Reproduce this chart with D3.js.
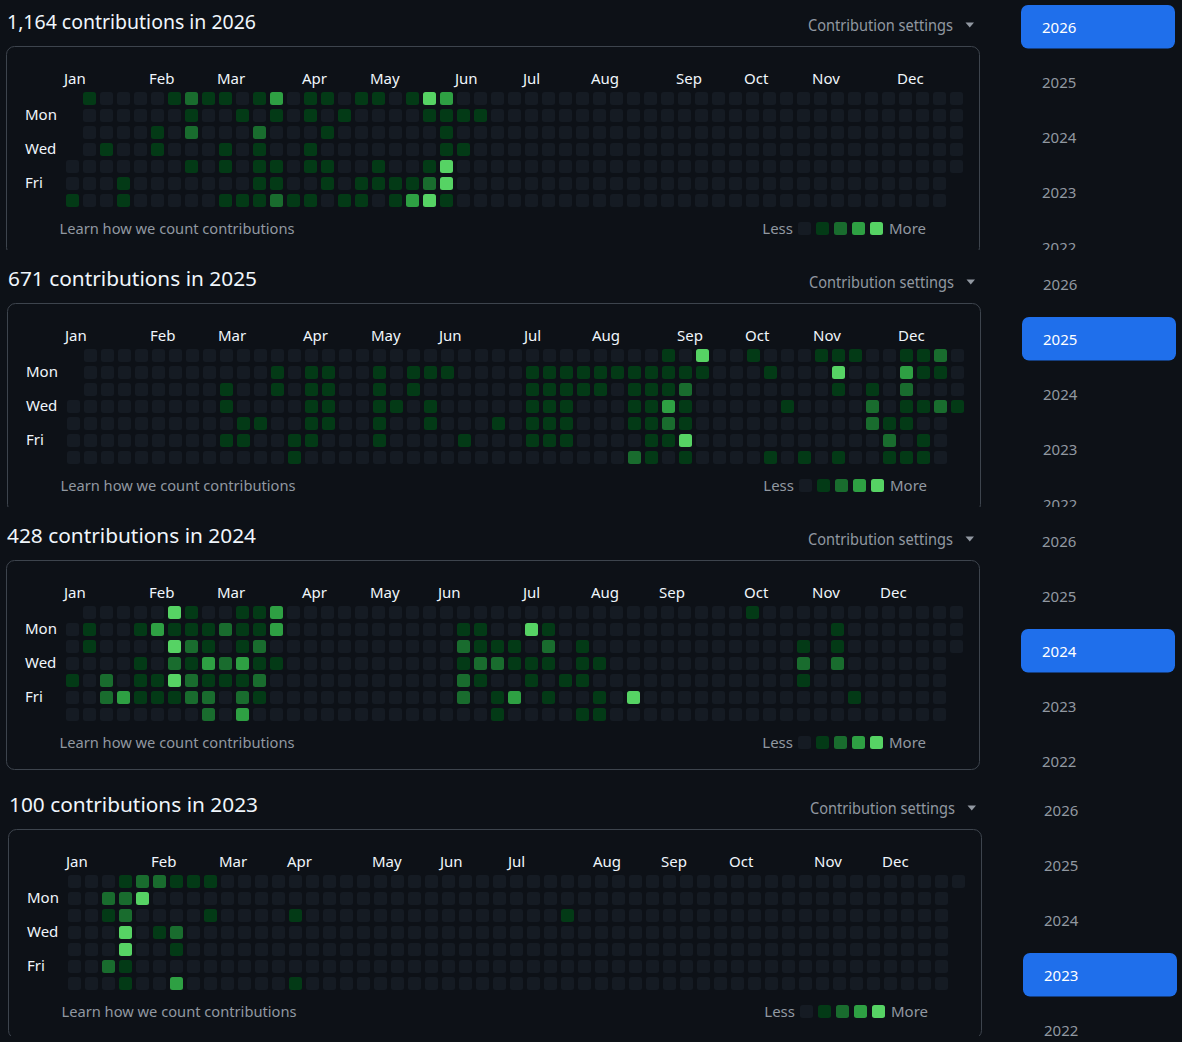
<!DOCTYPE html>
<html><head><meta charset="utf-8">
<script src="https://cdn.jsdelivr.net/npm/d3@7"></script>
<style>
html,body{margin:0;padding:0;background:#0d1117;}
svg{display:block;font-family:"Segoe UI","Noto Sans",sans-serif;}
</style></head><body>
<svg id="chart" width="1182" height="1042"></svg>
<script>
// ---------------- data ----------------
const years = [2026, 2025, 2024, 2023];
const totals = [1164, 671, 428, 100];
const sidebarYears = [2026, 2025, 2024, 2023, 2022];
const monthNames = ["Jan","Feb","Mar","Apr","May","Jun","Jul","Aug","Sep","Oct","Nov","Dec"];
const dayLabels = [[1,"Mon"],[3,"Wed"],[5,"Fri"]];
const levels = [0,1,2,3,4];
const levelColors = ["#151b23","#033a16","#196c2e","#2ea043","#56d364"];

// per weekday (Sun..Sat): [week column, level]
const activity2026 = [
  [[1,1],[6,1],[7,2],[8,1],[9,1],[11,1],[12,3],[14,1],[15,1],[17,1],[18,1],[20,1],[21,4],[22,3]],
  [[7,1],[10,1],[12,1],[14,1],[16,1],[21,1],[22,1],[23,1],[24,1]],
  [[5,1],[7,2],[11,2],[15,1],[22,1]],
  [[2,1],[5,1],[9,1],[11,1],[14,1],[22,1],[23,1]],
  [[7,1],[9,1],[11,1],[12,1],[14,1],[15,1],[18,1],[21,1],[22,4]],
  [[3,1],[11,1],[12,1],[15,1],[17,1],[18,1],[19,1],[20,1],[21,2],[22,4]],
  [[0,1],[3,1],[9,1],[10,1],[11,1],[12,2],[13,1],[14,1],[16,1],[17,1],[19,1],[20,3],[21,4],[22,1]]
];
const activity2025 = [
  [[35,1],[37,4],[40,1],[44,1],[45,1],[46,1],[49,1],[50,1],[51,2]],
  [[12,1],[14,1],[15,1],[18,1],[20,1],[21,1],[22,1],[27,1],[28,1],[29,1],[30,1],[31,1],[32,1],[33,1],[34,1],[35,1],[36,1],[37,1],[41,1],[45,4],[49,3],[50,1],[51,1]],
  [[9,1],[12,1],[14,1],[15,1],[18,1],[20,1],[27,1],[28,1],[29,1],[30,1],[31,1],[33,1],[34,1],[35,1],[36,2],[45,1],[47,1],[49,2]],
  [[9,1],[14,1],[15,1],[18,1],[19,1],[21,1],[27,1],[28,1],[29,1],[33,1],[34,1],[35,3],[36,1],[42,1],[47,2],[49,1],[50,1],[51,2],[52,1]],
  [[10,1],[11,1],[14,1],[15,1],[18,1],[21,1],[25,1],[27,1],[28,1],[29,1],[33,1],[34,1],[35,2],[36,1],[47,2],[48,1],[49,1]],
  [[9,1],[10,1],[13,1],[14,1],[18,1],[23,1],[27,1],[28,1],[29,1],[34,1],[35,1],[36,4],[48,2],[50,1]],
  [[13,1],[33,2],[34,1],[36,1],[41,1],[43,1],[45,1],[48,1],[49,1],[50,1]]
];
const activity2024 = [
  [[6,4],[7,1],[10,1],[11,1],[12,3],[40,1]],
  [[1,1],[4,1],[5,3],[6,1],[7,1],[8,1],[9,2],[10,1],[11,1],[12,3],[23,1],[24,1],[27,4],[28,1],[45,1]],
  [[1,1],[6,4],[7,2],[8,1],[10,1],[11,2],[23,2],[24,1],[25,1],[26,1],[28,2],[30,1],[43,1],[45,1]],
  [[4,1],[6,2],[7,1],[8,3],[9,2],[10,3],[11,1],[12,1],[23,1],[24,2],[25,2],[26,1],[27,1],[28,1],[30,1],[31,1],[43,2],[45,2]],
  [[0,1],[2,2],[4,1],[5,1],[6,4],[7,2],[8,1],[9,1],[10,1],[11,2],[23,2],[24,1],[27,1],[29,1],[30,1],[43,1]],
  [[2,2],[3,3],[4,1],[5,1],[6,1],[7,2],[8,2],[10,2],[11,1],[23,2],[25,1],[26,3],[28,1],[31,1],[33,4],[46,1]],
  [[8,2],[10,3],[25,1],[30,1],[31,1]]
];
const activity2023 = [
  [[3,1],[4,2],[5,2],[6,1],[7,1],[8,1]],
  [[2,2],[3,2],[4,4]],
  [[2,1],[3,2],[8,1],[13,1],[29,1]],
  [[3,4],[5,1],[6,2]],
  [[3,4],[6,1]],
  [[2,2],[3,1]],
  [[3,1],[6,3],[13,1]]
];
const activities = [activity2026, activity2025, activity2024, activity2023];

// ---------------- layout ----------------
const panels = [
  {dx:0, dy:0,   band:[0,250]},
  {dx:1, dy:257, band:[250,507]},
  {dx:0, dy:514, band:[507,782]},
  {dx:2, dy:783, band:[782,1036]}
];
const C = {text:"#f0f6fc", muted:"#9198a1", border:"#3d444d", accent:"#1f6feb", bg:"#0d1117"};

const svg = d3.select("#chart");
svg.append("rect").attr("width",1182).attr("height",1042).attr("fill",C.bg);
const defs = svg.append("defs");

const x = d3.scaleBand().domain(d3.range(53)).range([66, 963]).paddingInner(4/17).paddingOuter(0);
const y = d3.scaleBand().domain(d3.range(7)).range([92, 207]).paddingInner(4/17).paddingOuter(0);
const color = d3.scaleOrdinal().domain(levels).range(levelColors);
const legendX = d3.scaleBand().domain(levels).range([798, 883]).paddingInner(5/18).paddingOuter(0);
const fmt = d3.format(",");

years.forEach((yr, i) => {
  const p = panels[i];
  defs.append("clipPath").attr("id","clip"+i).append("rect")
    .attr("x",0).attr("y",p.band[0]).attr("width",1182).attr("height",p.band[1]-p.band[0]);
  const outer = svg.append("g").attr("clip-path",`url(#clip${i})`);
  outer.append("rect").attr("x",0).attr("y",p.band[0]).attr("width",1182).attr("height",p.band[1]-p.band[0]).attr("fill",C.bg);
  const g = outer.append("g").attr("transform",`translate(${p.dx},${p.dy})`);

  // header
  g.append("text").attr("x",7).attr("y",29).attr("font-size",20).attr("fill",C.text)
    .attr("textLength",249).attr("lengthAdjust","spacingAndGlyphs")
    .text(`${fmt(totals[i])} contributions in ${yr}`);
  g.append("text").attr("x",808).attr("y",31).attr("font-size",16).attr("fill",C.muted)
    .attr("textLength",145).attr("lengthAdjust","spacingAndGlyphs")
    .text("Contribution settings");
  g.append("path").attr("d","M965.5,22.5 L974,22.5 L969.75,27.5 Z").attr("fill",C.muted);

  // box
  g.append("rect").attr("x",6.5).attr("y",46.5).attr("width",973).attr("height",209).attr("rx",8)
    .attr("fill","none").attr("stroke",C.border);

  // cells
  const lookup = new Map();
  activities[i].forEach((row, wd) => row.forEach(([wk, lv]) => lookup.set(wk+"-"+wd, lv)));
  const jan1 = new Date(yr,0,1);
  const days = d3.timeDays(jan1, new Date(yr+1,0,1)).map(d => {
    const wk = d3.timeWeek.count(jan1, d), wd = d.getDay();
    return {wk, wd, lv: lookup.get(wk+"-"+wd) || 0};
  });
  g.append("g").selectAll("rect").data(days).join("rect")
    .attr("x", d => x(d.wk)).attr("y", d => y(d.wd))
    .attr("width", x.bandwidth()).attr("height", y.bandwidth())
    .attr("rx", 2.5).attr("fill", d => color(d.lv));

  // month labels
  const monthCols = monthNames.map((m, mi) => {
    if (mi === 0) return 0;
    const firstSun = d3.timeSunday.ceil(new Date(yr, mi, 1));
    return d3.timeWeek.count(jan1, firstSun);
  });
  g.append("g").selectAll("text").data(monthNames).join("text")
    .attr("x", (d, mi) => x(monthCols[mi]) - 2).attr("y", 84)
    .attr("font-size",15).attr("fill",C.text).text(d => d);

  // day labels
  g.append("g").selectAll("text").data(dayLabels).join("text")
    .attr("x", 25).attr("y", d => y(d[0]) + y.bandwidth()/2 + 4.5)
    .attr("font-size",15).attr("fill",C.text).text(d => d[1]);

  // footer
  g.append("text").attr("x",59.5).attr("y",234).attr("font-size",15).attr("fill",C.muted)
    .attr("textLength",235).attr("lengthAdjust","spacingAndGlyphs")
    .text("Learn how we count contributions");
  g.append("text").attr("x",793).attr("y",234).attr("text-anchor","end").attr("font-size",15)
    .attr("fill",C.muted).text("Less");
  g.append("g").selectAll("rect").data(levels).join("rect")
    .attr("x", d => legendX(d)).attr("y", 222)
    .attr("width", legendX.bandwidth()).attr("height", 13).attr("rx",2.5)
    .attr("fill", d => color(d));
  g.append("text").attr("x",889).attr("y",234).attr("font-size",15)
    .attr("fill",C.muted).text("More");

  // sidebar
  const si = sidebarYears.indexOf(yr);
  g.append("rect").attr("x",1021).attr("y",5 + 55*si).attr("width",154).attr("height",43.5)
    .attr("rx",7).attr("fill",C.accent);
  g.append("g").selectAll("text").data(sidebarYears).join("text")
    .attr("x",1042).attr("y",(d, k) => 32.5 + 55*k).attr("font-size",15)
    .attr("fill", d => d === yr ? "#ffffff" : C.muted).text(d => d);
});
</script>
</body></html>
